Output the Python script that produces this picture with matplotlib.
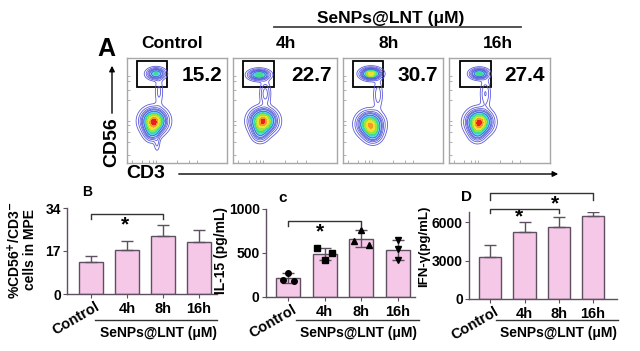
import numpy as np
import matplotlib.pyplot as plt
from matplotlib.lines import Line2D
from matplotlib.patches import Rectangle, FancyArrowPatch

plt.rcParams['font.family'] = ['Liberation Sans', 'DejaVu Sans']
plt.rcParams['font.weight'] = 'bold'
plt.rcParams['mathtext.default'] = 'bf'

# ---- data ----
groups = ['Control', '4h', '8h', '16h']
flow_pct = [15.2, 22.7, 30.7, 27.4]

# density blobs for each flow panel: (x, y, sx, sy, weight) in panel units 0-1
flow_blobs = [
    [(0.29, 0.85, 0.050, 0.030, 0.50), (0.32, 0.68, 0.025, 0.080, 0.09),
     (0.27, 0.40, 0.068, 0.062, 1.00), (0.25, 0.30, 0.045, 0.050, 0.35),
     (0.30, 0.19, 0.018, 0.050, 0.08)],
    [(0.25, 0.84, 0.055, 0.028, 0.60), (0.31, 0.66, 0.030, 0.070, 0.16),
     (0.29, 0.40, 0.068, 0.062, 1.00), (0.26, 0.29, 0.045, 0.050, 0.30)],
    [(0.28, 0.85, 0.055, 0.030, 0.85), (0.35, 0.65, 0.028, 0.080, 0.11),
     (0.27, 0.37, 0.068, 0.062, 0.85), (0.30, 0.28, 0.050, 0.050, 0.35)],
    [(0.30, 0.85, 0.050, 0.028, 0.55), (0.36, 0.66, 0.030, 0.080, 0.13),
     (0.30, 0.39, 0.068, 0.062, 1.00), (0.28, 0.29, 0.045, 0.050, 0.30)],
]
gate_x = [(0.10, 0.40), (0.10, 0.39), (0.10, 0.40), (0.11, 0.42)]

nk_mean = [12.6, 17.3, 22.8, 20.4]
nk_err = [2.3, 3.8, 4.3, 4.9]

il15_mean = [216, 492, 663, 536]
il15_err = [60, 70, 100, 115]
il15_pts = [[193, 273, 182], [555, 422, 498], [639, 760, 589], [646, 544, 418]]
il15_dx = [[-0.15, 0.0, 0.15], [-0.2, 0.0, 0.2], [-0.2, 0.0, 0.2], [0.0, 0.0, 0.0]]
il15_mk = ['o', 's', '^', 'v']

ifn_mean = [3300, 5230, 5600, 6460]
ifn_err = [930, 770, 780, 310]

PINK = '#f6c8e8'
EDGE = '#5e5060'
W, H = 640, 351

fig = plt.figure(figsize=(6.4, 3.51), dpi=100)


def px_axes(left, top, right, bottom):
    return fig.add_axes([left / W, 1 - bottom / H, (right - left) / W, (bottom - top) / H])


def ftext(x, y, s, **kw):
    kw.setdefault('ha', 'center')
    kw.setdefault('va', 'center')
    fig.text(x / W, 1 - y / H, s, **kw)


def fline(x0, x1, y0, y1, **kw):
    fig.add_artist(Line2D([x0 / W, x1 / W], [1 - y0 / H, 1 - y1 / H], transform=fig.transFigure, **kw))


def farrow(x0, y0, x1, y1):
    fig.add_artist(FancyArrowPatch((x0 / W, 1 - y0 / H), (x1 / W, 1 - y1 / H), transform=fig.transFigure,
                                   arrowstyle='-|>', mutation_scale=8, lw=1.0, color='black'))


# ---- panel A: flow plots ----
panel_px = [(127, 227), (233, 337), (343, 443), (449, 550)]
gx, gy = np.meshgrid(np.linspace(0, 1, 240), np.linspace(0, 1, 240))
fill_cols = ['#a8d4f6', '#5cd6f2', '#3edc96', '#9ee43e', '#f0e030', '#f59a22', '#e42222']
fill_lev = [0.22, 0.32, 0.45, 0.58, 0.72, 0.84, 0.94, 1.5]

for i, (l, r) in enumerate(panel_px):
    ax = px_axes(l, 58, r, 163)
    z = np.zeros_like(gx)
    for cx, cy, sx, sy, w in flow_blobs[i]:
        z += w * np.exp(-((gx - cx) ** 2 / (2 * sx ** 2) + (gy - cy) ** 2 / (2 * sy ** 2)))
    z /= 1.05
    ax.contour(gx, gy, z, levels=[0.03, 0.07, 0.12, 0.17], colors='#5c5ad8', linewidths=0.6)
    ax.contourf(gx, gy, z, levels=fill_lev, colors=fill_cols)
    ax.contour(gx, gy, z, levels=[0.22, 0.32], colors='#4a4ad0', linewidths=0.5)
    g0, g1 = gate_x[i]
    ax.add_patch(Rectangle((g0, 0.72), g1 - g0, 0.25, fill=False, ec='black', lw=1.3))
    ax.text(0.75, 0.83, f'{flow_pct[i]}', fontsize=15, fontweight='bold', ha='center', va='center')
    ax.set_xlim(0, 1)
    ax.set_ylim(0, 1)
    for s in ax.spines.values():
        s.set_color('#a8a8a8')
        s.set_linewidth(1.0)
    ax.set_xticks([0.05, 0.15, 0.22, 0.26, 0.29, 0.5, 0.62, 0.7])
    ax.set_yticks([0.08, 0.2, 0.3, 0.36, 0.4, 0.6, 0.7, 0.78, 0.83])
    ax.tick_params(length=2, width=0.5, color='#909090', labelbottom=False, labelleft=False, direction='in')

ftext(106, 49, 'A', fontsize=18)
ftext(172, 43, 'Control', fontsize=12.5)
for lab, x in zip(groups[1:], [286, 389, 498]):
    ftext(x, 43, lab, fontsize=12.5)
ftext(391, 18, 'SeNPs@LNT (μM)', fontsize=12.5)
fline(274, 521, 27, 27, color='#444444', lw=1.3)

ftext(112, 142, 'CD56', fontsize=14, rotation=90)
farrow(112, 116, 112, 63)
ftext(146, 174, 'CD3', fontsize=14)
farrow(176, 174, 561, 174)


# ---- bar panels ----
def bar_panel(ax, means, errs, ylim, yticks, two_sided=False):
    x = np.arange(len(groups))
    ax.bar(x, means, width=0.65, color=PINK, edgecolor=EDGE, linewidth=1.0, zorder=2)
    yerr = errs if two_sided else [np.zeros(len(errs)), errs]
    ax.errorbar(x, means, yerr=yerr, fmt='none', ecolor=EDGE, elinewidth=1.0,
                capsize=4, capthick=1.0, zorder=3)
    ax.set_ylim(*ylim)
    ax.set_yticks(yticks)
    ax.set_xticks(x)
    ax.set_xticklabels([''] + groups[1:], fontsize=10.5, fontweight='bold')
    ax.tick_params(axis='x', length=3, width=0.8, color=EDGE, pad=3)
    ax.tick_params(axis='y', length=3, width=0.8, color=EDGE, labelsize=10, pad=1.5)
    for lab in ax.get_yticklabels():
        lab.set_fontweight('bold')
    ax.spines['top'].set_visible(False)
    ax.spines['right'].set_visible(False)
    for s in ('left', 'bottom'):
        ax.spines[s].set_color(EDGE)
        ax.spines[s].set_linewidth(1.0)
    ax.text(0.1, -0.06, 'Control', transform=ax.get_xaxis_transform(), rotation=30,
            rotation_mode='anchor', ha='right', va='top', fontsize=10.5, fontweight='bold')


def bracket(ax, x0, x1, y_top, y_low):
    ax.plot([x0, x0, x1, x1], [y_low, y_top, y_top, y_low], color='#333333', lw=1.0, clip_on=False, zorder=4)


def star(ax, x, y):
    ax.text(x, y, '*', fontsize=15, fontweight='bold', ha='center', va='center', clip_on=False)


# B
axB = px_axes(67, 208, 217, 294)
axB.set_xlim(-0.67, 3.5)
bar_panel(axB, nk_mean, nk_err, (0, 34), [0, 17, 34])
bracket(axB, 0, 2, 31.6, 29.6)
star(axB, 0.95, 27.5)
ftext(87, 192, 'B', fontsize=10)
ftext(15, 250, r'%CD56$^{+}$/CD3$^{-}$', fontsize=10, rotation=90)
ftext(30, 250, 'cells in MPE', fontsize=10, rotation=90)

# C
axC = px_axes(266, 209, 415, 297)
axC.set_xlim(-0.6, 3.46)
bar_panel(axC, il15_mean, il15_err, (0, 1000), [0, 500, 1000], two_sided=True)
for i in range(len(groups)):
    axC.plot(np.array(il15_dx[i]) + i, il15_pts[i], linestyle='none', marker=il15_mk[i],
             color='black', markersize=4, zorder=5)
bracket(axC, 0, 2, 864, 807)
star(axC, 0.88, 745)
ftext(283, 198, 'c', fontsize=11)
ftext(221, 251, 'IL-15 (pg/mL)', fontsize=10, rotation=90)

# D
axD = px_axes(469, 212, 617, 299)
axD.set_xlim(-0.62, 3.7)
bar_panel(axD, ifn_mean, ifn_err, (0, 6800), [0, 3000, 6000])
bracket(axD, 0, 2, 7050, 6700)
bracket(axD, 0, 3, 8250, 7750)
star(axD, 0.85, 6450)
star(axD, 1.9, 7450)
ftext(466, 197, 'D', fontsize=11)
ftext(424, 246, 'IFN-γ(pg/mL)', fontsize=9.5, rotation=90)

# group labels under the bar panels
for x0, x1, xc in [(95, 217, 158), (296, 419, 358), (496, 618, 559)]:
    fline(x0, x1, 320, 320, color='#333333', lw=1.0)
    ftext(xc, 333, 'SeNPs@LNT (μM)', fontsize=10)

fig.savefig('out.png', dpi=100)
